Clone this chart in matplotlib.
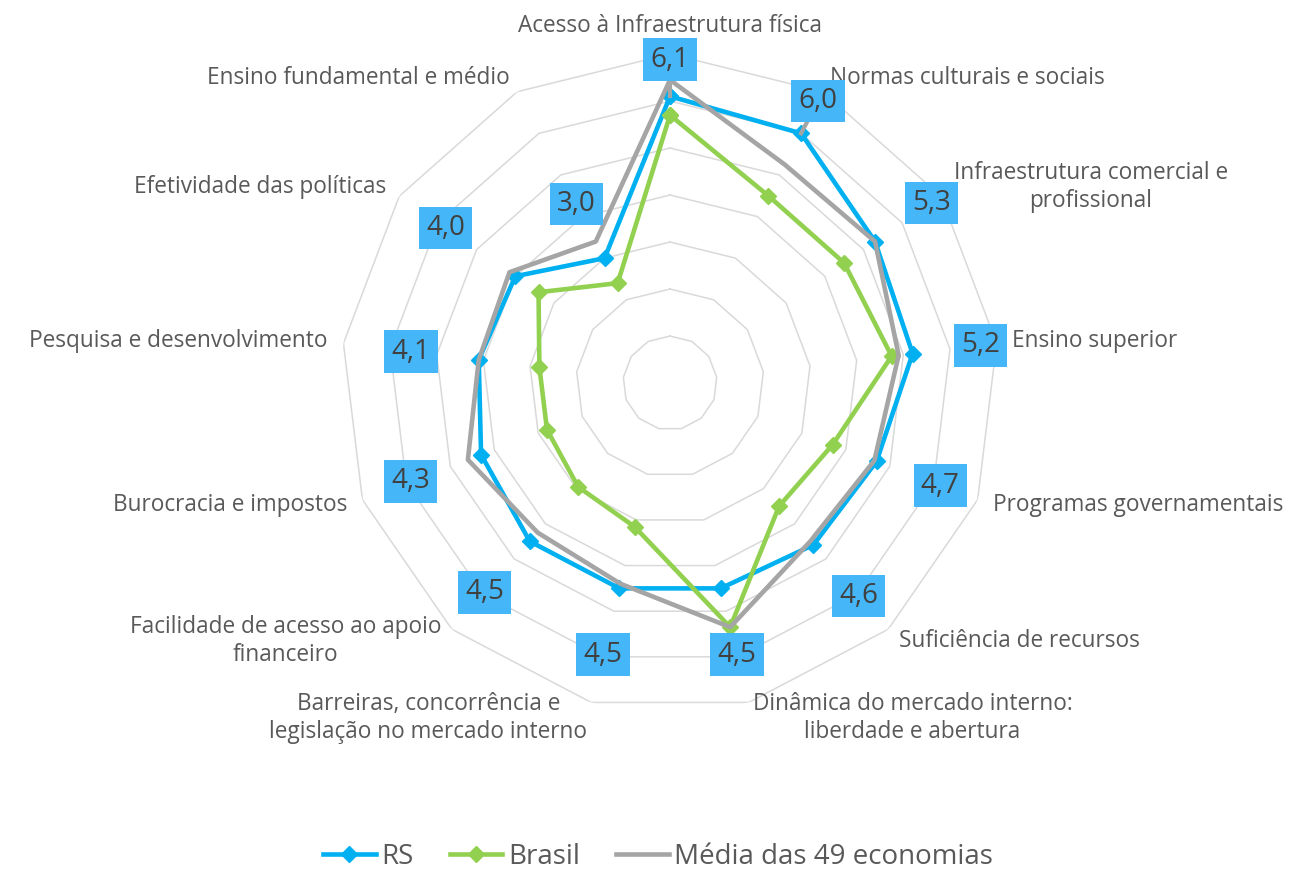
import numpy as np
import matplotlib
matplotlib.use("Agg")
import matplotlib.pyplot as plt

plt.rcParams['font.family'] = ['Open Sans', 'DejaVu Sans']

categories = [
    "Acesso à Infraestrutura física",
    "Normas culturais e sociais",
    "Infraestrutura comercial e\nprofissional",
    "Ensino superior",
    "Programas governamentais",
    "Suficiência de recursos",
    "Dinâmica do mercado interno:\nliberdade e abertura",
    "Barreiras, concorrência e\nlegislação no mercado interno",
    "Facilidade de acesso ao apoio\nfinanceiro",
    "Burocracia e impostos",
    "Pesquisa e desenvolvimento",
    "Efetividade das políticas",
    "Ensino fundamental e médio",
]
rs = [6.1, 6.0, 5.3, 5.2, 4.7, 4.6, 4.5, 4.5, 4.5, 4.3, 4.1, 4.0, 3.0]
brasil = [5.7, 4.5, 4.5, 4.75, 3.7, 3.5, 5.35, 3.15, 2.95, 2.8, 2.8, 3.4, 2.4]
media = [6.45, 5.25, 5.3, 4.9, 4.65, 4.5, 5.35, 4.4, 4.25, 4.6, 4.1, 4.15, 3.4]
series_names = ["RS", "Brasil", "Média das 49 economias"]

BLUE = "#00B0F0"
GREEN = "#92D050"
GRAY = "#A5A5A5"
BOX = "#45B7F8"

n = len(categories)
angles = np.linspace(0, 2 * np.pi, n, endpoint=False)
ang_c = np.append(angles, angles[0])

def closed(v):
    return np.append(v, v[0])

fig = plt.figure(figsize=(12.94, 8.73), dpi=100)
ax = fig.add_axes([0.2635, 0.1844, 0.5086, 0.7537], projection='polar')
ax.set_theta_offset(np.pi / 2)
ax.set_theta_direction(-1)
ax.set_ylim(0, 7)
ax.grid(False)
ax.spines['polar'].set_visible(False)
ax.set_xticks([])
ax.set_yticks([])
ax.patch.set_alpha(0)

# polygon gridlines
for lvl in range(1, 8):
    ax.plot(ang_c, [lvl] * (n + 1), color="#D9D9D9", lw=1.1, zorder=1)

ax.plot(ang_c, closed(rs), color=BLUE, lw=3.3, marker='D', ms=8, zorder=3, label=series_names[0])
ax.plot(ang_c, closed(brasil), color=GREEN, lw=3.3, marker='D', ms=8, zorder=4, label=series_names[1])
ax.plot(ang_c, closed(media), color=GRAY, lw=3.3, zorder=5, label=series_names[2])

# category labels
r_lab = 7.34
for a, name in zip(angles, categories):
    s = np.sin(a)
    if abs(s) < 0.1:
        ha = 'center'
    elif s > 0:
        ha = 'left'
    else:
        ha = 'right'
    va = 'bottom' if abs(s) < 0.1 and np.cos(a) > 0 else 'center'
    ax.text(a, r_lab, name, ha=ha, va=va, fontsize=16.3, color="#595959",
            multialignment='center', linespacing=1.25)

# value labels for RS
pad_default = 1.45
pad_special = {0: 0.78, 1: 0.78, 9: 1.6, 11: 1.8, 12: 1.3}
for i, (a, v) in enumerate(zip(angles, rs)):
    pad = pad_special.get(i, pad_default)
    if pad < 1:
        ax.plot([a, a], [v, v + pad], color=GRAY, lw=3, zorder=6)
    ax.text(a, v + pad, f"{v:.1f}".replace('.', ','), ha='center', va='center',
            fontsize=20, color="#404040", zorder=7,
            bbox=dict(boxstyle='square,pad=0.26', fc=BOX, ec='none'))

fig.legend(loc='center', bbox_to_anchor=(658 / 1294, 1 - 857 / 873), ncol=3,
           frameon=False, fontsize=20, handlelength=1.9, handletextpad=0.2,
           columnspacing=1.3, labelcolor="#595959")

fig.savefig("out.png", dpi=100)
